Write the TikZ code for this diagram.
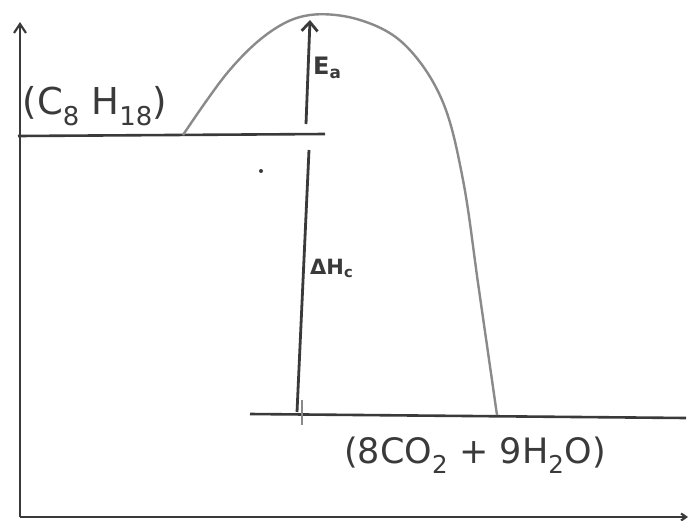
\documentclass[tikz,border=0pt]{standalone}
\usepackage{fontspec}
\setmainfont{DejaVu Sans}
\usetikzlibrary{arrows.meta}
\definecolor{ink}{HTML}{3A3A3A}
\definecolor{pencil}{HTML}{8A8A8A}
\tikzset{
  axis/.style={ink, line width=2.2pt, -{Straight Barb[length=9pt,width=12pt]}},
  level/.style={ink, line width=2.6pt},
  curve/.style={pencil, line width=2.4pt},
  arrowline/.style={ink, line width=2.8pt},
  lbl/.style={text=ink, inner sep=0pt},
}
\begin{document}
\begin{tikzpicture}[x=1pt,y=-1pt]
\useasboundingbox[fill=white] (0,0) rectangle (691,520);
% axes
\coordinate (origin) at (20,517);
\coordinate (ytop) at (20,22);
\coordinate (xend) at (688,517);
\draw[axis] (origin) -- (ytop);
\draw[axis,-{Straight Barb[length=5pt,width=7pt]}] (origin) -- (xend);
% energy levels
\coordinate (r0) at (18,136);
\coordinate (r1) at (325,134);
\coordinate (p0) at (250,414);
\coordinate (p1) at (686,418);
\draw[level] (r0) -- (r1);
\draw[level] (p0) -- (p1);
% reaction profile
\draw[curve] plot[smooth, tension=0.6] coordinates {(183,135) (228,72) (270,32) (310,15) (360,20) (405,45) (442,100) (463,180) (479,290) (497,415)};
% Ea arrow
\coordinate (eabot) at (306,124);
\coordinate (eatop) at (310,20);
\draw[arrowline,-{Straight Barb[length=9pt,width=16pt]}] (eabot) -- (eatop);
% Delta H line
\coordinate (hbot) at (297,412);
\coordinate (htop) at (309,150);
\draw[arrowline] (hbot) -- (htop);
\coordinate (tick0) at (302,400);
\coordinate (tick1) at (302,425);
\draw[ink!60, line width=1.2pt] (tick0) -- (tick1);
% dot
\fill[ink] (261,171) circle (2pt);
% labels
\node[lbl, font=\bfseries\fontsize{24}{26}\selectfont, anchor=west] (ea) at (313,68) {E\textsubscript{a}};
\node[lbl, font=\bfseries\fontsize{21}{23}\selectfont, anchor=west] (dh) at (310,268) {ΔH\textsubscript{c}};
\node[lbl, font=\fontsize{37}{40}\selectfont] (react) at (95,106) {(C\textsubscript{8} H\textsubscript{18})};
\node[lbl, font=\fontsize{35}{40}\selectfont] (prod) at (475,455) {(8CO\textsubscript{2} + 9H\textsubscript{2}O)};
\end{tikzpicture}
\end{document}
